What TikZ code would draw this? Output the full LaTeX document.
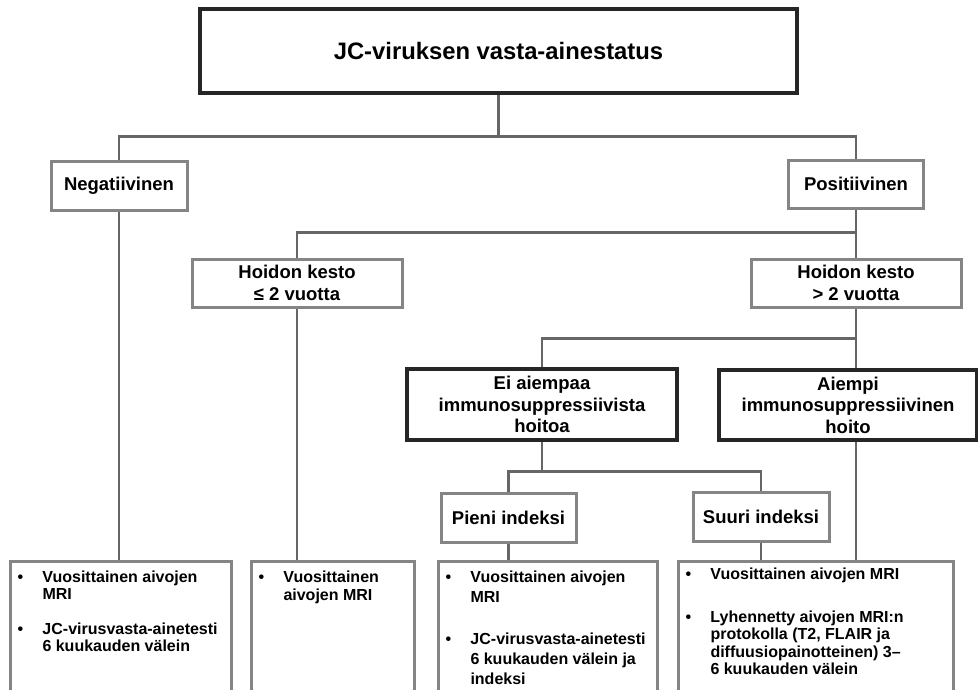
\documentclass[tikz,border=0pt]{standalone}
\usepackage{fontspec}
\setmainfont{Liberation Sans}
\usepackage{xcolor}
\definecolor{tumma}{HTML}{262626}
\definecolor{harmaa}{HTML}{858585}
\definecolor{viiva}{HTML}{666666}
\newcommand{\kohta}[1]{\par\noindent\hangindent=25pt\hangafter=1\makebox[25pt][l]{\textbullet}#1\par}

\begin{document}
\begin{tikzpicture}[x=1pt,y=-1pt,
    paalaatikko/.style={draw=tumma, line width=3.4pt, inner sep=0pt, align=center,
      font=\bfseries\fontsize{23.8}{28}\selectfont},
    tummalaatikko/.style={draw=tumma, line width=3.4pt, inner sep=0pt, align=center,
      font=\bfseries\fontsize{18.5}{21.5}\selectfont},
    laatikko/.style={draw=harmaa, line width=3pt, inner sep=0pt, align=center,
      font=\bfseries\fontsize{18.5}{21.5}\selectfont},
    alalaatikko/.style={draw=harmaa, line width=3pt, anchor=north west, inner xsep=7pt,
      inner ysep=9pt, align=left, font=\bfseries\fontsize{16}{17}\selectfont},
    yhteys/.style={draw=viiva, line width=2.6pt}]

    % Fix the page size and cut the lower boxes at the edge
    \useasboundingbox (0,0) rectangle (978,689);
    \clip (0,0) rectangle (978,689);

    % Top box
    \node[paalaatikko, minimum width=597, minimum height=84] (status) at (498.5,51) {JC-viruksen vasta-ainestatus};

    % First split
    \node[laatikko, minimum width=136, minimum height=49] (neg) at (119,185.5) {Negatiivinen};
    \node[laatikko, minimum width=135, minimum height=48] (pos) at (856,184) {Positiivinen};

    % Duration of treatment
    \node[laatikko, minimum width=210, minimum height=48] (kesto1) at (297,283) {Hoidon kesto\\≤ 2 vuotta};
    \node[laatikko, minimum width=210, minimum height=48] (kesto2) at (856,283) {Hoidon kesto\\> 2 vuotta};

    % Earlier treatment
    \node[tummalaatikko, minimum width=270, minimum height=71] (ei) at (542,404.5) {Ei aiempaa\\immunosuppressiivista\\hoitoa};
    \node[tummalaatikko, minimum width=258, minimum height=70] (aiempi) at (848,405) {Aiempi\\immunosuppressiivinen\\hoito};

    % Index
    \node[laatikko, minimum width=135, minimum height=49] (pieni) at (508.5,517.5) {Pieni indeksi};
    \node[laatikko, minimum width=136, minimum height=49] (suuri) at (761,516.5) {Suuri indeksi};

    % Follow-up boxes at the bottom
    \node[alalaatikko] (mri1) at (9,560) {\parbox[t][140pt][t]{207pt}{\raggedright
      \kohta{Vuosittainen aivojen\newline MRI}\vspace{18pt}
      \kohta{JC-virusvasta-ainetesti\newline 6 kuukauden välein}}};
    \node[alalaatikko] (mri2) at (250,560) {\parbox[t][140pt][t]{149pt}{\raggedright
      \fontsize{16}{18}\selectfont
      \kohta{Vuosittainen\newline aivojen MRI}}};
    \node[alalaatikko] (mri3) at (437,560) {\parbox[t][140pt][t]{205pt}{\raggedright
      \fontsize{16}{20}\selectfont
      \kohta{Vuosittainen aivojen\newline MRI}\vspace{22pt}
      \kohta{JC-virusvasta-ainetesti\newline 6 kuukauden välein ja\newline indeksi}}};
    \node[alalaatikko, inner ysep=6pt] (mri4) at (677,560) {\parbox[t][140pt][t]{261pt}{\raggedright
      \fontsize{16}{17.3}\selectfont
      \kohta{Vuosittainen aivojen MRI}\vspace{26pt}
      \kohta{Lyhennetty aivojen MRI:n\newline protokolla (T2, FLAIR ja\newline diffuusiopainotteinen) 3–\newline 6 kuukauden välein}}};

    % Connectors
    \draw[yhteys] (status.south) -- ++(0,42) coordinate (h1);
    \draw[yhteys] (neg.north) |- (h1) -| (pos.north);
    \draw[yhteys] (pos.south) -- ++(0,23) coordinate (h2);
    \draw[yhteys] (kesto1.north) |- (h2) -- (kesto2.north);
    \draw[yhteys] (kesto2.south) -- ++(0,30) coordinate (h3);
    \draw[yhteys] (ei.north) |- (h3) -- (kesto2.south |- aiempi.north);
    \draw[yhteys] (ei.south) -- ++(0,30) coordinate (h4);
    \draw[yhteys] (pieni.north) |- (h4) -| (suuri.north);
    \draw[yhteys] (neg.south) -- (neg.south |- mri1.north);
    \draw[yhteys] (kesto1.south) -- (kesto1.south |- mri2.north);
    \draw[yhteys] (pieni.south) -- (pieni.south |- mri3.north);
    \draw[yhteys] (suuri.south) -- (suuri.south |- mri4.north);
    \draw[yhteys] (kesto2.south |- aiempi.south) -- (kesto2.south |- mri4.north);

\end{tikzpicture}
\end{document}
